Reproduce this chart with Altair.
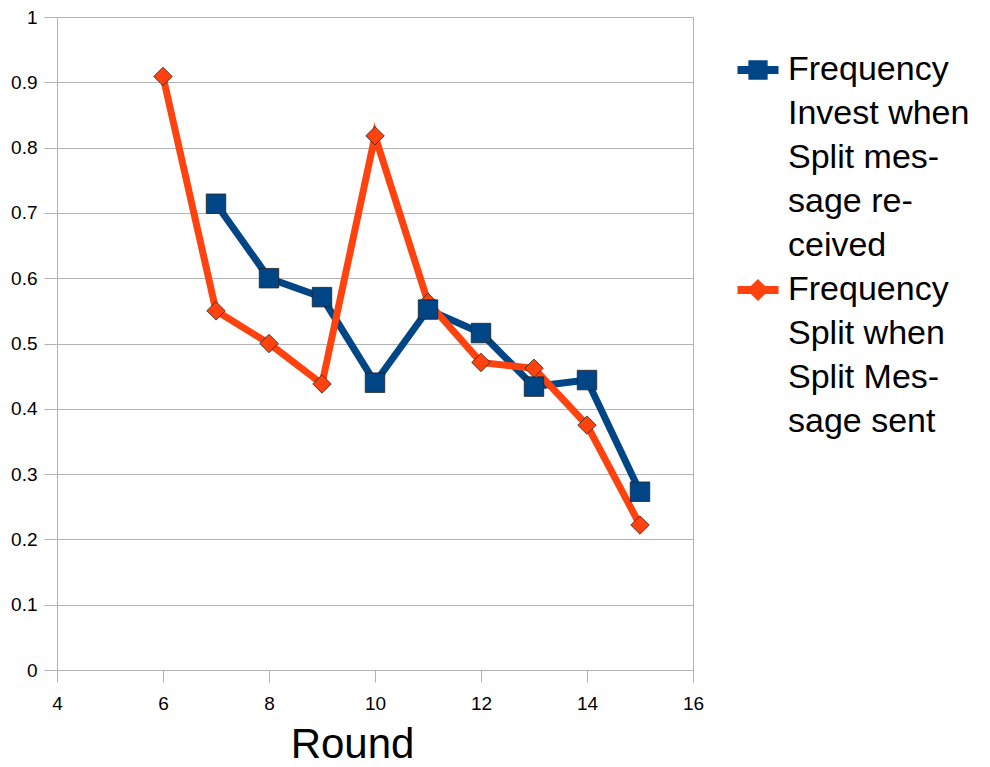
import altair as alt
import pandas as pd

rounds = [6, 7, 8, 9, 10, 11, 12, 13, 14, 15]
invest = [None, 0.714, 0.600, 0.571, 0.440, 0.552, 0.516, 0.434, 0.444, 0.273]
split = [0.909, 0.550, 0.500, 0.438, 0.818, 0.563, 0.471, 0.462, 0.375, 0.222]

s_inv = "Frequency Invest when Split message received"
s_spl = "Frequency Split when Split Message sent"
c_inv = "#004586"
c_spl = "#ff420e"

# legend text, one entry per wrapped line (second "Frequency " has a trailing space to stay unique)
legend_lines_inv = ["Frequency", "Invest when", "Split mes-", "sage re-", "ceived"]
legend_lines_spl = ["Frequency ", "Split when", "Split Mes-", "sage sent"]

x_ticks = [4, 6, 8, 10, 12, 14, 16]
y_ticks = [0, 0.1, 0.2, 0.3, 0.4, 0.5, 0.6, 0.7, 0.8, 0.9, 1]

rows = []
for r, a, b in zip(rounds, invest, split):
    if a is not None:
        rows.append({"Round": r, "value": a, "series": s_inv})
    if b is not None:
        rows.append({"Round": r, "value": b, "series": s_spl})
df = pd.DataFrame(rows)

FONT = "Liberation Sans"
GRID = "#b3b3b3"

sq_path = "M-1,-0.19H-0.47V-0.47H0.47V-0.19H1V0.19H0.47V0.47H-0.47V0.19H-1Z"
dm_path = "M-1,-0.19H-0.35L0,-0.54L0.35,-0.19H1V0.19H0.35L0,0.54L-0.35,0.19H-1Z"
blank = "M0,0"

leg_domain = legend_lines_inv + legend_lines_spl
leg_shapes = [sq_path] + [blank] * (len(legend_lines_inv) - 1) + [dm_path] + [blank] * (len(legend_lines_spl) - 1)
leg_fills = [c_inv] * len(legend_lines_inv) + [c_spl] * len(legend_lines_spl)

legend = alt.Legend(
    title=None,
    orient="none",
    legendX=680,
    legendY=32,
    padding=0,
    labelFont=FONT,
    labelFontSize=34,
    labelColor="black",
    labelLimit=500,
    labelOffset=9,
    rowPadding=6,
    symbolSize=1681,
    symbolStrokeColor="#222222",
    symbolStrokeWidth=0.6,
    symbolOpacity=1,
)

x = alt.X(
    "Round:Q",
    scale=alt.Scale(domain=[4, 16], nice=False),
    axis=alt.Axis(
        values=x_ticks,
        grid=False,
        title="Round",
        titleFont=FONT,
        titleFontSize=42,
        titleFontWeight="normal",
        titleColor="black",
        titleX=295,
        titleY=87,
        titleBaseline="alphabetic",
        labelFont=FONT,
        labelFontSize=19,
        labelColor="black",
        labelPadding=12,
        tickSize=12,
        tickColor=GRID,
        domainColor=GRID,
        labelFlush=False,
    ),
)
y = alt.Y(
    "value:Q",
    scale=alt.Scale(domain=[0, 1], nice=False),
    axis=alt.Axis(
        values=y_ticks,
        format=".1~f",
        grid=True,
        gridColor=GRID,
        title=None,
        labelFont=FONT,
        labelFontSize=19,
        labelColor="black",
        labelPadding=7,
        tickSize=13,
        tickColor=GRID,
        domainColor=GRID,
        labelFlush=False,
    ),
)

base = alt.Chart(df)
inv = base.transform_filter(alt.datum.series == s_inv)
spl = base.transform_filter(alt.datum.series == s_spl)

line_inv = inv.mark_line(strokeWidth=7, color=c_inv).encode(x=x, y=y)
line_spl = spl.mark_line(strokeWidth=7, color=c_spl).encode(x=x, y=y)
pt_spl = spl.mark_point(
    shape="diamond", filled=True, size=340, opacity=1, fill=c_spl, stroke="#222222", strokeWidth=0.8
).encode(x=x, y=y)
pt_inv = inv.mark_point(
    shape="square", filled=True, size=380, opacity=1, fill=c_inv, stroke="#222222", strokeWidth=0.8
).encode(x=x, y=y)

leg_df = pd.DataFrame({"entry": leg_domain})
leg_layer = (
    alt.Chart(leg_df)
    .transform_filter("false")
    .mark_point(filled=True, opacity=1, stroke="#222222", strokeWidth=0.6)
    .encode(
        shape=alt.Shape("entry:N", scale=alt.Scale(domain=leg_domain, range=leg_shapes), legend=legend),
        fill=alt.Fill("entry:N", scale=alt.Scale(domain=leg_domain, range=leg_fills), legend=legend),
    )
)

chart = (
    alt.layer(line_inv, line_spl, pt_spl, pt_inv, leg_layer)
    .properties(
        width=636,
        height=653,
        autosize=alt.AutoSizeParams(type="none"),
        padding={"left": 57, "top": 17, "right": 297, "bottom": 97},
        background="white",
    )
    .configure_view(stroke=GRID, strokeWidth=1)
)

chart.save("out.html", embed_options={"renderer": "svg", "actions": False})
